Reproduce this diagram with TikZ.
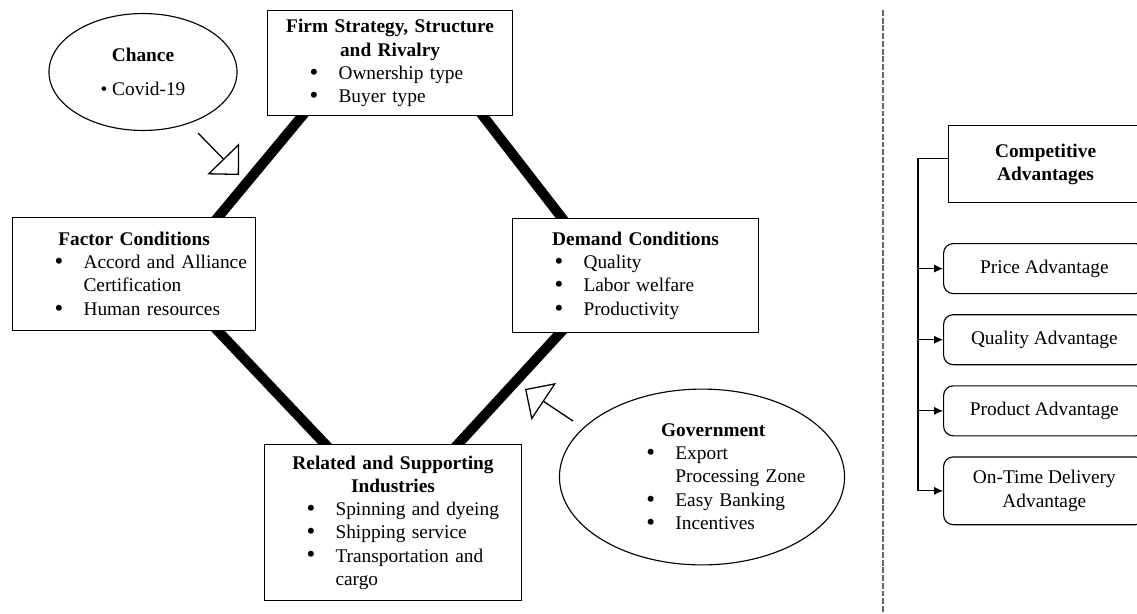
\documentclass[tikz,border=0pt]{standalone}
\usepackage{fontspec}
\setmainfont{Liberation Serif}
\usetikzlibrary{arrows.meta, positioning, calc, shapes.geometric, backgrounds}

% bullet line and its continuation (indent from the text block's left edge)
\newcommand{\bigbul}{\raisebox{-0.6pt}{\fontsize{15.5}{14.4}\selectfont\textbullet}}
\newcommand{\bulitem}[2][22pt]{\makebox[\hsize][l]{\hspace*{#1}\makebox[18pt][l]{\bigbul}#2}}
\newcommand{\bulcont}[2][22pt]{\makebox[\hsize][l]{\hspace*{#1}\hspace*{18pt}#2}}

\begin{document}
\begin{tikzpicture}[
x=0.62pt, y=-0.62pt,
every node/.style={
font=\fontsize{12}{14.4}\selectfont
},
pillar/.style={
draw,
line width=0.7pt,
fill=white,
align=center,
inner xsep=4pt,
inner ysep=2pt,
anchor=north west
},
outside/.style={
draw,
ellipse,
line width=0.7pt,
align=center,
inner sep=0pt
},
force/.style={line width=6.2pt, shorten <=-5pt, shorten >=-5pt},
influence/.style={-{Triangle[open, length=14pt, width=27.5pt]}, line width=0.8pt},
headbox/.style={draw, line width=0.7pt, align=center, anchor=north west,
minimum width=120.3pt, minimum height=47.7pt},
advbox/.style={draw, line width=0.7pt, rounded corners=6pt, align=center,
minimum width=125pt, minimum height=31pt},
link/.style={-{Latex[length=5.5pt, width=5pt]}, line width=0.7pt},
divider/.style={black!60, line width=0.7pt, dash pattern=on 3.6pt off 1.2pt},
node distance=12.4pt
]
\useasboundingbox (0,0) rectangle (1137,613);
\clip (0,0) rectangle (1137,613);

% ------------------------
% Diamond (four determinants)
% ------------------------
\node[pillar, text width=143.9pt, minimum height=65.1pt] (firm) at (267,10) {
\textbf{Firm Strategy, Structure}\\
\textbf{and Rivalry}\\
\bulitem{Ownership type}\\
\bulitem{Buyer type}
};

\node[pillar, text width=142.7pt, minimum height=70.1pt] (factor) at (12,217) {
\textbf{Factor Conditions}\\
\bulitem{Accord and Alliance}\\
\bulcont{Certification}\\
\bulitem{Human resources}
};

\node[pillar, text width=144.5pt, minimum height=70.7pt] (demand) at (512,218) {
\textbf{Demand Conditions}\\
\bulitem{Quality}\\
\bulitem{Labor welfare}\\
\bulitem{Productivity}
};

\node[pillar, text width=151.3pt, minimum height=96.7pt] (related) at (264,444) {
\textbf{Related and Supporting}\\
\textbf{Industries}\\
\bulitem{Spinning and dyeing}\\
\bulitem{Shipping service}\\
\bulitem{Transportation and}\\
\bulcont{cargo}
};

% thick links behind the boxes
\begin{scope}[on background layer]
\draw[force] ($(firm.south west)+(35,0)$) -- ($(factor.north east)+(-38,0)$);
\draw[force] ($(firm.south east)+(-30,0)$) -- ($(demand.north west)+(50,0)$);
\draw[force] ($(factor.south east)+(-38,0)$) -- ($(related.north west)+(61,0)$);
\draw[force] ($(demand.south west)+(48,0)$) -- ($(related.north east)+(-64,0)$);
\end{scope}

% ------------------------
% Outside influences
% ------------------------
\node[outside, minimum width=116.6pt, minimum height=72.5pt] (chance) at (143,72) {
\textbf{Chance}\\[7pt]
\textbullet~Covid-19
};

\node[outside, minimum width=175.5pt, minimum height=109pt, text width=125pt] (gov) at (702,477) {
\hspace*{14pt}\textbf{Government}\\
\bulitem[28pt]{Export}\\
\bulcont[28pt]{Processing~Zone}\\
\bulitem[28pt]{Easy Banking}\\
\bulitem[28pt]{Incentives}
};

\coordinate (chancetail) at (198,133);
\coordinate (chancetip) at (239,175);
\coordinate (govtail) at (573,421);
\coordinate (govtip) at (525,389);

\draw[influence] (chancetail) -- (chancetip);
\draw[influence] (govtail) -- (govtip);

% divider
\draw[divider] (883,10) -- (883,613);

% ------------------------
% Competitive advantages (right)
% ------------------------
\node[headbox] (comp) at (948,125) {\textbf{Competitive}\\ \textbf{Advantages}};

\node[advbox, anchor=north west] (price) at (943,243) {Price Advantage};
\node[advbox, below=of price] (quality) {Quality Advantage};
\node[advbox, below=of quality] (product) {Product Advantage};
\node[advbox, below=of product, minimum height=42pt] (ontime) {On-Time Delivery\\Advantage};

\draw[link] ([yshift=3.7pt]comp.west) -- ++(-30,0) coordinate (trunk) |- (ontime.west);
\foreach \adv in {price, quality, product}
\draw[link] (trunk |- \adv.west) -- (\adv.west);

\end{tikzpicture}
\end{document}
